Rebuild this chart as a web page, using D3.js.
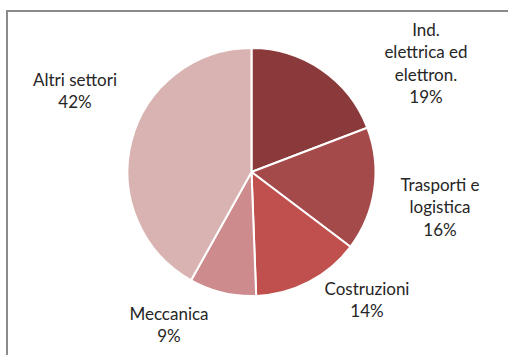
<!DOCTYPE html>
<html>
<head>
<meta charset="utf-8">
<script src="https://cdn.jsdelivr.net/npm/d3@7"></script>
<style>
  html, body { margin: 0; padding: 0; background: #fff; }
  svg { display: block; }
  .lbl { font-family: Lato, "Open Sans", sans-serif; font-size: 17px; fill: #262626; }
</style>
</head>
<body>
<div id="chart"></div>
<script>
// Data
const sectors = [["Ind.", "elettrica ed", "elettron."], ["Trasporti e", "logistica"], ["Costruzioni"], ["Meccanica"], ["Altri settori"]];
const shares = [19.2, 16.1, 14.1, 8.7, 41.9];
const pctLabels = ["19%", "16%", "14%", "9%", "42%"];
const colors = ["#8b3a3b", "#a54a4a", "#c0504d", "#cd8b8d", "#d9b2b2"];

// Label centres (layout, like Excel's best-fit placement)
const labelPos = [[426, 30], [440, 185], [367, 289], [169, 314], [75, 80]];

const width = 508, height = 355;
const cx = 251.5, cy = 172, radius = 124;
const lineH = 22.5;

const svg = d3.select("#chart")
    .append("svg")
    .attr("width", width)
    .attr("height", height);

// Chart frame (cut off at the right and bottom)
svg.append("path")
    .attr("d", `M7,${height + 5}V11H${width + 5}`)
    .attr("fill", "none")
    .attr("stroke", "#8a8a8a")
    .attr("stroke-width", 2);

const pie = d3.pie().sort(null).value(d => d);
const arc = d3.arc().innerRadius(0).outerRadius(radius);

const g = svg.append("g").attr("transform", `translate(${cx},${cy})`);

g.selectAll("path.slice")
    .data(pie(shares))
    .enter()
    .append("path")
    .attr("class", "slice")
    .attr("d", arc)
    .attr("fill", (d, i) => colors[i])
    .attr("stroke", "#fff")
    .attr("stroke-width", 2)
    .attr("stroke-linejoin", "round");

// Labels
sectors.forEach((lines, i) => {
    const t = svg.append("text")
        .attr("class", "lbl")
        .attr("text-anchor", "middle")
        .attr("x", labelPos[i][0])
        .attr("y", labelPos[i][1]);
    lines.concat([pctLabels[i]]).forEach((s, j) => {
        t.append("tspan")
            .attr("x", labelPos[i][0])
            .attr("y", labelPos[i][1] + j * lineH)
            .attr("dy", "0.35em")
            .text(s);
    });
});
</script>
</body>
</html>
